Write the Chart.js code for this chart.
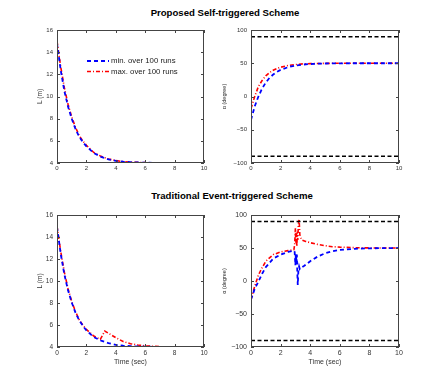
<!DOCTYPE html>
<html lang="en">
<head>
<meta charset="UTF-8">
<title>Proposed Self-triggered vs Traditional Event-triggered Scheme</title>
<script src="https://cdn.jsdelivr.net/npm/chart.js"></script>
<style>
  body {
    margin: 0;
    background: #fff;
    width: 440px;
    height: 390px;
    position: relative;
    overflow: hidden;
    font-family: "Liberation Sans", Arial, sans-serif;
  }
  .title {
    position: absolute;
    width: 200px;
    font-weight: bold;
    font-size: 9.6px;
    line-height: 10px;
    color: #000;
    text-align: center;
    white-space: nowrap;
  }
  canvas { position: absolute; }
</style>
</head>
<body>
<div class="title" style="left:125px; top:8px">Proposed Self-triggered Scheme</div>
<div class="title" style="left:132px; top:191px">Traditional Event-triggered Scheme</div>

<canvas id="lenPro" width="220" height="170" style="left:0; top:20px"></canvas>
<canvas id="angPro" width="220" height="170" style="left:220px; top:20px"></canvas>
<canvas id="lenTrad" width="220" height="190" style="left:0; top:200px"></canvas>
<canvas id="angTrad" width="220" height="190" style="left:220px; top:200px"></canvas>

<script>
// --- data ---
const xTicks = [0, 2, 4, 6, 8, 10];
const lenTicks = [4, 6, 8, 10, 12, 14, 16];
const angTicks = [-100, -50, 0, 50, 100];

// proposed self-triggered scheme
const tPro = [0, 0.25, 0.5, 0.75, 1, 1.25, 1.5, 1.75, 2, 2.5, 3, 3.5, 4, 4.5, 5, 6, 7, 8, 9, 10];
const lenMinPro = [14.8, 12.4, 10.5, 9.1, 8.0, 7.1, 6.4, 5.9, 5.5, 4.9, 4.55, 4.33, 4.2, 4.12, 4.07, 4.03, 4.01, 4.0, 4.0, 4.0];
const lenMaxPro = [15.0, 12.7, 10.8, 9.3, 8.15, 7.25, 6.5, 6.0, 5.6, 4.95, 4.6, 4.36, 4.22, 4.13, 4.08, 4.03, 4.01, 4.0, 4.0, 4.0];
const angMinPro = [-35, -15, 0, 12, 21, 28, 33, 37, 40, 44, 46.6, 48, 48.8, 49.3, 49.6, 49.9, 50, 50, 50, 50];
const angMaxPro = [-18, 0, 15, 24, 31, 36, 39.5, 42, 44, 46.5, 48, 49, 49.4, 49.6, 49.8, 50, 50, 50, 50, 50];

// traditional event-triggered scheme
const tLenMinTrad = [0, 0.25, 0.5, 0.75, 1, 1.25, 1.5, 1.75, 2, 2.5, 3, 3.5, 4, 4.5, 5, 6, 7, 8, 9, 10];
const lenMinTrad = [14.9, 12.5, 10.6, 9.15, 8.05, 7.15, 6.45, 5.95, 5.5, 4.9, 4.58, 4.35, 4.2, 4.12, 4.07, 4.03, 4.01, 4.0, 4.0, 4.0];
const tLenMaxTrad = [0, 0.25, 0.5, 0.75, 1, 1.25, 1.5, 1.75, 2, 2.5, 2.95, 3.25, 3.5, 4, 4.5, 5, 5.5, 6, 7, 8, 9, 10];
const lenMaxTrad = [15.0, 12.7, 10.8, 9.3, 8.15, 7.25, 6.5, 6.0, 5.6, 5.0, 4.7, 5.45, 5.25, 4.85, 4.5, 4.3, 4.18, 4.1, 4.03, 4.0, 4.0, 4.0];

const tAngMinTrad = [0, 0.25, 0.5, 0.75, 1, 1.5, 2, 2.5, 2.9, 2.95, 3.0, 3.03, 3.06, 3.1, 3.13, 3.16, 3.2, 3.25, 3.3, 3.4, 3.6, 4, 4.5, 5, 5.5, 6, 7, 8, 9, 10];
const angMinTrad = [-28, -12, -1, 11, 21, 34, 40, 44, 46, 44, 24, 42, 28, 40, 12, -6, 15, 22, 18, 20, 23, 30, 37, 42, 45, 47, 48.8, 49.5, 49.8, 50];
const tAngMaxTrad = [0, 0.25, 0.5, 0.75, 1, 1.5, 2, 2.5, 2.9, 2.95, 3.0, 3.03, 3.06, 3.1, 3.13, 3.16, 3.2, 3.25, 3.3, 3.35, 3.45, 3.7, 4, 4.5, 5, 5.5, 6, 7, 8, 9, 10];
const angMaxTrad = [-28, -8, 9, 20, 30, 40, 44, 46, 47.5, 55, 80, 58, 72, 52, 75, 62, 85, 94, 70, 66, 62, 60, 58, 55.5, 53.5, 52, 51.3, 50.5, 50.1, 50, 50];

// angle limits
const tBound = [0, 10];
const upperBound = [90, 90];
const lowerBound = [-90, -90];

const legendLabels = ['min. over 100 runs', 'max. over 100 runs'];

Chart.defaults.font.family = "'Liberation Sans', Arial, sans-serif";
Chart.defaults.color = '#333';

const BLUE = '#0000ff', RED = '#ff0000';

function series(xs, ys, color, dash, width) {
  return {
    data: xs.map((x, i) => ({ x: x, y: ys[i] })),
    borderColor: color,
    borderDash: dash,
    borderWidth: width,
    pointRadius: 0,
    fill: false,
    tension: 0
  };
}
const minLine = (xs, ys) => series(xs, ys, BLUE, [4, 3], 1.8);
const maxLine = (xs, ys) => series(xs, ys, RED, [4, 2, 1, 2], 1.6);
const bound = ys => series(tBound, ys, '#000', [4, 2.5], 1.5);

function fixSize(dim, size) {
  return s => {
    s[dim] = size;
    s.paddingLeft = s.paddingRight = s.paddingTop = s.paddingBottom = 0;
  };
}

// matlab style box with inward ticks
const boxPlugin = {
  id: 'box',
  afterDraw(chart) {
    const { ctx, chartArea: a, scales: { x, y } } = chart;
    ctx.save();
    ctx.strokeStyle = '#444';
    ctx.lineWidth = 1;
    ctx.strokeRect(a.left + 0.5, a.top + 0.5, a.width - 1, a.height - 1);
    ctx.beginPath();
    x.ticks.forEach(t => {
      const px = Math.round(x.getPixelForValue(t.value)) + 0.5;
      ctx.moveTo(px, a.bottom); ctx.lineTo(px, a.bottom - 3);
      ctx.moveTo(px, a.top); ctx.lineTo(px, a.top + 3);
    });
    y.ticks.forEach(t => {
      const py = Math.round(y.getPixelForValue(t.value)) + 0.5;
      ctx.moveTo(a.left, py); ctx.lineTo(a.left + 3, py);
      ctx.moveTo(a.right, py); ctx.lineTo(a.right - 3, py);
    });
    ctx.stroke();
    ctx.restore();
  }
};

const legendPlugin = {
  id: 'inlineLegend',
  afterDraw(chart) {
    const { ctx, chartArea: a } = chart;
    ctx.save();
    ctx.font = "7.8px 'Liberation Sans', Arial, sans-serif";
    ctx.fillStyle = '#222';
    ctx.textBaseline = 'middle';
    legendLabels.forEach((label, i) => {
      const ds = chart.data.datasets[i];
      const y = a.top + 31 + i * 10.5;
      ctx.strokeStyle = ds.borderColor;
      ctx.lineWidth = ds.borderWidth;
      ctx.setLineDash(ds.borderDash);
      ctx.beginPath();
      ctx.moveTo(a.left + 30, y);
      ctx.lineTo(a.left + 52, y);
      ctx.stroke();
      ctx.setLineDash([]);
      ctx.fillText(label, a.left + 54, y);
    });
    ctx.restore();
  }
};

const minus = v => String(v).replace('-', '\u2212');

function makeChart(id, opt) {
  const xTitle = opt.xTitle
    ? { display: true, text: opt.xTitle, font: { size: opt.titleSize }, padding: 0, color: '#333' }
    : { display: false };
  return new Chart(document.getElementById(id), {
    type: 'line',
    data: { datasets: opt.datasets },
    options: {
      responsive: false,
      animation: false,
      events: [],
      layout: { padding: opt.padding },
      plugins: { legend: { display: false }, tooltip: { enabled: false } },
      scales: {
        x: {
          type: 'linear',
          min: 0, max: 10,
          afterBuildTicks: s => { s.ticks = xTicks.map(v => ({ value: v })); },
          ticks: { font: { size: opt.tickSize }, padding: 2, color: '#333', maxRotation: 0 },
          grid: { display: false, drawTicks: false },
          border: { display: false },
          title: xTitle,
          afterFit: fixSize('height', opt.xHeight)
        },
        y: {
          min: opt.yTicks[0], max: opt.yTicks[opt.yTicks.length - 1],
          afterBuildTicks: s => { s.ticks = opt.yTicks.map(v => ({ value: v })); },
          ticks: { font: { size: opt.tickSize }, padding: 4, color: '#333', callback: minus },
          grid: { display: false, drawTicks: false },
          border: { display: false },
          title: { display: true, text: opt.yTitle, font: { size: opt.yTitleSize }, padding: 0, color: '#333' },
          afterFit: fixSize('width', opt.yWidth)
        }
      }
    },
    plugins: opt.legend ? [boxPlugin, legendPlugin] : [boxPlugin]
  });
}

makeChart('lenPro', {
  datasets: [minLine(tPro, lenMinPro), maxLine(tPro, lenMaxPro)],
  yTicks: lenTicks, yTitle: 'L (m)', yTitleSize: 6.5, tickSize: 6,
  padding: { left: 36, right: 16, top: 10, bottom: 7 }, yWidth: 21, xHeight: 20,
  legend: true
});

makeChart('angPro', {
  datasets: [bound(upperBound), bound(lowerBound), minLine(tPro, angMinPro), maxLine(tPro, angMaxPro)],
  yTicks: angTicks, yTitle: '\u03b1 (degree)', yTitleSize: 5.5, tickSize: 6,
  padding: { left: 1, right: 41, top: 10, bottom: 7 }, yWidth: 30, xHeight: 20
});

makeChart('lenTrad', {
  datasets: [minLine(tLenMinTrad, lenMinTrad), maxLine(tLenMaxTrad, lenMaxTrad)],
  yTicks: lenTicks, yTitle: 'L (m)', yTitleSize: 6.5, tickSize: 6.5,
  xTitle: 'Time (sec)', titleSize: 7,
  padding: { left: 36, right: 16, top: 15, bottom: 24 }, yWidth: 21, xHeight: 19
});

makeChart('angTrad', {
  datasets: [bound(upperBound), bound(lowerBound), minLine(tAngMinTrad, angMinTrad), maxLine(tAngMaxTrad, angMaxTrad)],
  yTicks: angTicks, yTitle: '\u03b1 (degree)', yTitleSize: 5.5, tickSize: 7,
  xTitle: 'Time (sec)', titleSize: 7,
  padding: { left: 1, right: 41, top: 15, bottom: 24 }, yWidth: 30, xHeight: 19
});
</script>
</body>
</html>
